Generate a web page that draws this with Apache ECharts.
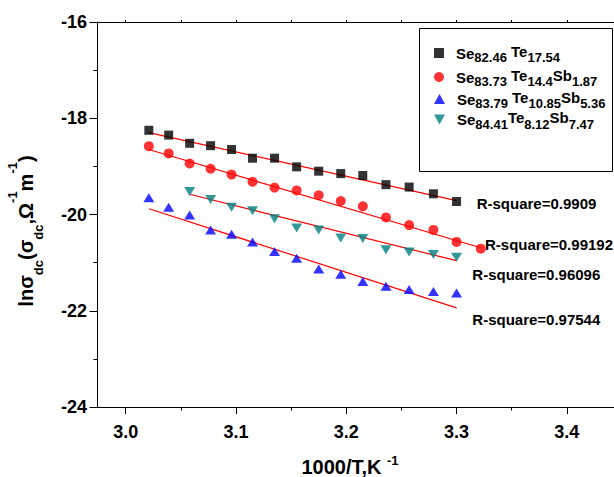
<!DOCTYPE html>
<html><head><meta charset="utf-8">
<script src="https://cdn.jsdelivr.net/npm/echarts@6/dist/echarts.min.js"></script>
<style>html,body{margin:0;padding:0;background:#fff}#c{width:614px;height:477px}</style>
</head><body><div id="c"></div>
<script>
// ---- data ----
const xTickLabels = [3.0, 3.1, 3.2, 3.3, 3.4];
const xMinorTicks = [3.05, 3.15, 3.25, 3.35, 3.45];

const xBlack = [3.021,3.039,3.058,3.077,3.096,3.115,3.135,3.155,3.175,3.195,3.215,3.236,3.257,3.279,3.300];
const yBlack = [-18.25,-18.35,-18.52,-18.57,-18.65,-18.83,-18.83,-19.01,-19.10,-19.15,-19.19,-19.38,-19.43,-19.57,-19.73];

const xRed = [3.021,3.039,3.058,3.077,3.096,3.115,3.135,3.155,3.175,3.195,3.215,3.236,3.257,3.279,3.300,3.322];
const yRed = [-18.58,-18.73,-18.94,-19.05,-19.17,-19.32,-19.44,-19.50,-19.60,-19.72,-19.83,-20.06,-20.22,-20.32,-20.57,-20.71];

const xBlue = [3.021,3.039,3.058,3.077,3.096,3.115,3.135,3.155,3.175,3.195,3.215,3.236,3.257,3.279,3.300];
const yBlue = [-19.65,-19.85,-20.01,-20.32,-20.41,-20.57,-20.77,-20.91,-21.13,-21.24,-21.39,-21.49,-21.56,-21.60,-21.63];

const xTeal = [3.058,3.077,3.096,3.115,3.135,3.155,3.175,3.195,3.215,3.236,3.257,3.279,3.300];
const yTeal = [-19.52,-19.69,-19.85,-19.92,-20.09,-20.28,-20.32,-20.49,-20.50,-20.73,-20.78,-20.83,-20.89];

// linear fit end points [x, y]
const fitBlack = [[3.021,-18.30],[3.300,-19.71]];
const fitRed   = [[3.021,-18.65],[3.322,-20.69]];
const fitTeal  = [[3.058,-19.58],[3.300,-20.96]];
const fitBlue  = [[3.021,-19.88],[3.300,-21.94]];

const seriesNames = ['Se82.46 Te17.54','Se83.73 Te14.4Sb1.87','Se83.79 Te10.85Sb5.36','Se84.41Te8.12Sb7.47'];
const legendRich = [
  '{m|Se}{s|82.46} {t|Te}{s|17.54}',
  '{m|Se}{s|83.73} {t|Te}{s|14.4}{t|Sb}{s|1.87}',
  '{m|Se}{s|83.79} {t|Te}{s|10.85}{t|Sb}{s|5.36}',
  '{m|Se}{s|84.41}{t|Te}{s|8.12}{t|Sb}{s|7.47}'
];
const rSquareTexts = ['R-square=0.9909','R-square=0.99192','R-square=0.96096','R-square=0.97544'];

// ---- styling / layout ----
const FONT = '"Liberation Sans", Arial, Helvetica, sans-serif';
const pair = (xs, ys) => xs.map((x, i) => [x, ys[i]]);
const rPos = [[476.7,203.3],[485,244],[472.3,274],[472.3,319]];
const legendTop = [42, 66, 88, 108.5];
const legendIcon = [[10,10],[10,10],[11,10],[11,10]];
const legendIconShape = ['rect', 'circle', 'triangle', 'path://M0,0 L10,0 L5,9 Z'];

const chart = echarts.init(document.getElementById('c'), null, {renderer: 'svg'});

const axisLine = {show: true, lineStyle: {color: '#000', width: 1}};
const fitStyle = {type: 'line', symbol: 'none', silent: true, lineStyle: {color: '#ff0000', width: 1.2}, z: 1, animation: false};
const legendTextStyle = {color: '#000', fontFamily: FONT, fontWeight: 'bold', fontSize: 15, lineHeight: 18,
  rich: {
    m: {fontSize: 15, fontWeight: 'bold', fontFamily: FONT, color: '#000', lineHeight: 18, padding: [0,0,0,7]},
    t: {fontSize: 15, fontWeight: 'bold', fontFamily: FONT, color: '#000', lineHeight: 18, padding: [0,0,4,0]},
    s: {fontSize: 13, fontWeight: 'bold', fontFamily: FONT, color: '#000', lineHeight: 18, padding: [9,0,0,0]}
  }};

chart.setOption({
  animation: false,
  backgroundColor: '#fff',
  grid: {left: 97, top: 22, right: -8, bottom: 70, outerBoundsMode: 'none', containLabel: false},
  xAxis: [
    {type: 'value', min: 2.974, max: 3.45, position: 'bottom', axisLine,
     splitLine: {show: false},
     axisTick: {show: true, customValues: xTickLabels, length: 7, lineStyle: {color: '#000'}},
     axisLabel: {customValues: xTickLabels, formatter: v => v.toFixed(1), color: '#000',
       fontSize: 18, fontWeight: 'bold', fontFamily: FONT, margin: 16}},
    {type: 'value', min: 2.974, max: 3.45, position: 'bottom', axisLine: {show: false},
     splitLine: {show: false},
     axisTick: {show: true, customValues: xMinorTicks, length: 3.5, lineStyle: {color: '#000'}},
     axisLabel: {show: false}},
    {type: 'value', min: 2.974, max: 3.45, position: 'top', axisLine,
     splitLine: {show: false},
     axisTick: {show: true, customValues: xTickLabels.concat(xMinorTicks), length: 2, lineStyle: {color: '#000'}},
     axisLabel: {show: false}}
  ],
  yAxis: [{
    type: 'value', min: -24, max: -16, interval: 2, axisLine,
    splitLine: {show: false},
    axisTick: {show: true, length: 7.5, lineStyle: {color: '#000'}},
    minorTick: {show: true, splitNumber: 2, length: 3.5, lineStyle: {color: '#000'}},
    axisLabel: {color: '#000', fontSize: 18, fontWeight: 'bold', fontFamily: FONT, margin: 10}
  }],
  legend: seriesNames.map((n, i) => ({
    data: [{name: n, icon: legendIconShape[i]}], orient: 'horizontal', left: 434, top: legendTop[i],
    padding: 0, itemWidth: legendIcon[i][0], itemHeight: legendIcon[i][1],
    selectedMode: false, formatter: () => legendRich[i], textStyle: legendTextStyle
  })),
  series: [
    Object.assign({name: 'fit1', data: fitBlack}, fitStyle),
    Object.assign({name: 'fit2', data: fitRed}, fitStyle),
    Object.assign({name: 'fit3', data: fitBlue}, fitStyle),
    Object.assign({name: 'fit4', data: fitTeal}, fitStyle),
    {name: seriesNames[0], type: 'scatter', symbol: 'rect', symbolSize: 9, z: 3,
     itemStyle: {color: '#000'}, data: pair(xBlack, yBlack)},
    {name: seriesNames[1], type: 'scatter', symbol: 'circle', symbolSize: 10, z: 3,
     itemStyle: {color: '#ff0000'}, data: pair(xRed, yRed)},
    {name: seriesNames[2], type: 'scatter', symbol: 'triangle', symbolSize: [11, 9], z: 3,
     itemStyle: {color: '#0000ff'}, data: pair(xBlue, yBlue)},
    {name: seriesNames[3], type: 'scatter', symbol: 'triangle', symbolRotate: 180, symbolSize: [11, 9], z: 3,
     itemStyle: {color: '#008080'}, data: pair(xTeal, yTeal)}
  ],
  graphic: [
    {type: 'rect', silent: true, z: 5,
     shape: {x: 419.5, y: 28.5, width: 193, height: 143},
     style: {fill: 'none', stroke: '#000', lineWidth: 1}},
    {type: 'text', x: 25.5, y: 231, rotation: Math.PI / 2, silent: true,
     style: {
       text: '{a|ln\u03c3}{d|dc}{a|(\u03c3}{d|dc}{a|,\u03a9}{p|-1}{a|m}{p|-1}{a|)}',
       align: 'center', verticalAlign: 'middle', fill: '#000',
       font: 'bold 20px ' + FONT,
       rich: {
         a: {fontSize: 20, fontWeight: 'bold', fontFamily: FONT, fill: '#000', lineHeight: 24},
         d: {fontSize: 13, fontWeight: 'bold', fontFamily: FONT, fill: '#000', lineHeight: 14, padding: [26,0,0,0]},
         p: {fontSize: 13, fontWeight: 'bold', fontFamily: FONT, fill: '#000', lineHeight: 14, padding: [0,0,26,0]}
       }
     }},
    {type: 'text', x: 350, y: 467, silent: true,
     style: {
       text: '{a|1000/T,K }{p|-1}',
       align: 'center', verticalAlign: 'middle', fill: '#000',
       font: 'bold 20px ' + FONT,
       rich: {
         a: {fontSize: 20, fontWeight: 'bold', fontFamily: FONT, fill: '#000', lineHeight: 24},
         p: {fontSize: 13, fontWeight: 'bold', fontFamily: FONT, fill: '#000', lineHeight: 14, padding: [0,0,14,0]}
       }
     }}
  ].concat(rSquareTexts.map((t, i) => ({
    type: 'text', x: rPos[i][0], y: rPos[i][1], silent: true,
    style: {text: t, align: 'left', verticalAlign: 'middle', fill: '#000', font: 'bold 15px ' + FONT}
  })))
});
</script></body></html>
